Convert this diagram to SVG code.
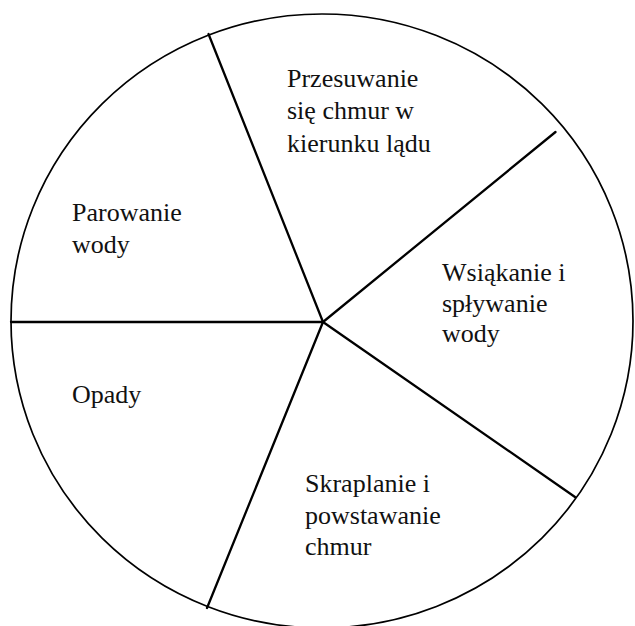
<svg xmlns="http://www.w3.org/2000/svg" width="635" height="626" viewBox="0 0 635 626">
<style>
.rim{fill:none;stroke:#000;stroke-width:1.7}
.spoke{stroke:#000;stroke-width:2.3;stroke-linecap:round;fill:none}
text{font-family:'Liberation Serif','DejaVu Serif',serif;font-size:26px;fill:#111}
</style>
<rect width="635" height="626" fill="#fff"/>
<g id="circle"><ellipse class="rim" cx="322" cy="321" rx="311" ry="307"/></g>
<g id="connectors">
<line class="spoke" x1="323" y1="322" x2="208.5" y2="34"/>
<line class="spoke" x1="323" y1="322" x2="555.5" y2="132"/>
<line class="spoke" x1="323" y1="322" x2="575" y2="497"/>
<line class="spoke" x1="323" y1="322" x2="207" y2="608"/>
<line class="spoke" x1="323" y1="322" x2="11" y2="322"/>
</g>
<g id="przesuwanie" font-family="Liberation Serif, serif"><text x="287" y="87">Przesuwanie</text><text x="287" y="119">się chmur w</text><text x="287" y="152">kierunku lądu</text></g>
<g id="wsiakanie" font-family="Liberation Serif, serif"><text x="442" y="281">Wsiąkanie i</text><text x="442" y="312">spływanie</text><text x="442" y="342">wody</text></g>
<g id="skraplanie" font-family="Liberation Serif, serif"><text x="305" y="492">Skraplanie i</text><text x="305" y="524">powstawanie</text><text x="305" y="555">chmur</text></g>
<g id="opady" font-family="Liberation Serif, serif"><text x="72" y="403">Opady</text></g>
<g id="parowanie" font-family="Liberation Serif, serif"><text x="72" y="221">Parowanie</text><text x="72" y="253">wody</text></g>
</svg>
